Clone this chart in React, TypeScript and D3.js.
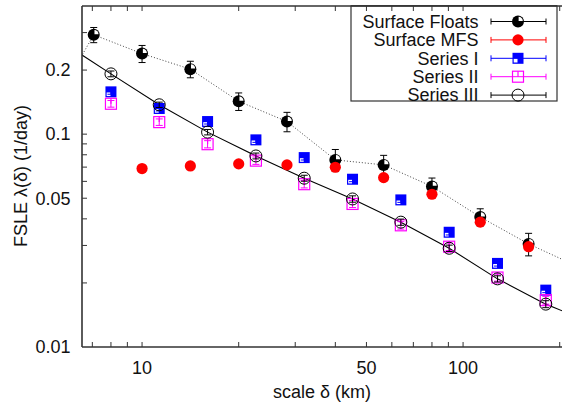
import React from 'react';
import * as d3 from 'd3';

const width = 562;
const height = 406;
const plot = { left: 82, right: 573, top: 6, bottom: 347 };
const font = '"Liberation Sans", Arial, Helvetica, sans-serif';

// scales in km, sqrt(2) spacing
const floatsX = [5, 7.07, 10, 14.14, 20, 28.28, 40, 56.57, 80, 113.1, 160, 226];
const floatsY = [0.117, 0.293, 0.239, 0.202, 0.1427, 0.1146, 0.0757, 0.0717, 0.0568, 0.0408, 0.0305, 0.024];
const floatsErr = [0.01, 0.024, 0.022, 0.018, 0.0135, 0.012, 0.009, 0.0078, 0.0054, 0.0038, 0.0037, 0.002];

const mfsX = [10, 14.14, 20, 28.28, 40, 56.57, 80, 113.1, 160];
const mfsY = [0.0689, 0.0709, 0.0725, 0.0717, 0.0699, 0.0625, 0.0522, 0.0386, 0.0296];
const mfsErr = [0.002, 0.002, 0.002, 0.002, 0.002, 0.002, 0.0015, 0.001, 0.001];

const seriesX = [8, 11.31, 16, 22.63, 32, 45.25, 64, 90.51, 128, 181];
const series1Y = [0.158, 0.132, 0.1146, 0.094, 0.0776, 0.0614, 0.0491, 0.0346, 0.0247, 0.0185];
const series1Err = [0.004, 0.0035, 0.003, 0.0025, 0.002, 0.0016, 0.0013, 0.001, 0.0007, 0.0005];
const series2Y = [0.1389, 0.1139, 0.0897, 0.0751, 0.0582, 0.047, 0.0373, 0.0296, 0.0212, 0.0166];
const series2Err = [0.005, 0.004, 0.0035, 0.003, 0.0023, 0.0018, 0.0015, 0.0012, 0.0008, 0.0007];
const series3Y = [0.192, 0.1374, 0.1022, 0.079, 0.0621, 0.0496, 0.0386, 0.0291, 0.0209, 0.0159];
const series3Err = [0.006, 0.004, 0.003, 0.0025, 0.002, 0.0017, 0.0013, 0.001, 0.0007, 0.0006];

// solid curve through Series III
const fitX = [6.5, 8, 11.31, 16, 22.63, 32, 45.25, 64, 90.51, 128, 181, 220];
const fitY = [0.2354, 0.192, 0.1374, 0.1022, 0.079, 0.0621, 0.0496, 0.0386, 0.0291, 0.0209, 0.0159, 0.0141];

const xTicks = [7, 8, 9, 10, 20, 30, 40, 50, 60, 70, 80, 90, 100, 200];
const xLabels = [10, 50, 100];
const yTicks = [0.02, 0.03, 0.04, 0.05, 0.06, 0.07, 0.08, 0.09, 0.1, 0.2, 0.3];
const yLabels = [0.01, 0.05, 0.1, 0.2];

const legendNames = ['Surface Floats', 'Surface MFS', 'Series I', 'Series II', 'Series III'];
const legendColors = ['#000000', '#ff0000', '#0000ff', '#ff00ff', '#000000'];

const x = d3.scaleLog().domain([6.5, 220]).range([plot.left, plot.right]);
const y = d3.scaleLog().domain([0.01, 0.4]).range([plot.bottom, plot.top]);

const Marker = ({ kind }: { kind: number }) => {
  if (kind === 0) {
    return (
      <g>
        <circle r={6} fill="#000" />
        <path d="M0.6,-0.6 L0.6,-4.8 A4.2,4.2 0 0 1 4.8,-0.6 Z" fill="#fff" />
      </g>
    );
  }
  if (kind === 1) return <circle r={5.6} fill="#ff0000" />;
  if (kind === 2) {
    return (
      <g>
        <rect x={-5.5} y={-5.5} width={11} height={11} fill="#0000ff" />
        <rect x={-4.3} y={0.6} width={3.8} height={3.6} fill="#fff" />
      </g>
    );
  }
  if (kind === 3) {
    return (
      <g fill="none" stroke="#ff00ff" strokeWidth={1.2}>
        <rect x={-5.5} y={-5.5} width={11} height={11} />
        <line x1={0} y1={-5.5} x2={0} y2={0} />
      </g>
    );
  }
  return <circle r={6} fill="none" stroke="#000" strokeWidth={1} />;
};

const ErrorBars = ({ xs, ys, errs, color }: { xs: number[]; ys: number[]; errs: number[]; color: string }) => (
  <g stroke={color} strokeWidth={1}>
    {xs.map((v, i) => {
      const cx = x(v);
      const y0 = y(ys[i] - errs[i]);
      const y1 = y(ys[i] + errs[i]);
      return (
        <g key={i}>
          <line x1={cx} x2={cx} y1={y0} y2={y1} />
          <line x1={cx - 3.5} x2={cx + 3.5} y1={y0} y2={y0} />
          <line x1={cx - 3.5} x2={cx + 3.5} y1={y1} y2={y1} />
        </g>
      );
    })}
  </g>
);

const Points = ({ xs, ys, kind }: { xs: number[]; ys: number[]; kind: number }) => (
  <g>
    {xs.map((v, i) => (
      <g key={i} transform={`translate(${x(v)},${y(ys[i])})`}>
        <Marker kind={kind} />
      </g>
    ))}
  </g>
);

const App = () => {
  const line = d3.line<number>().x((d) => x(d));
  const floatsPath = d3
    .line<number>()
    .x((d) => x(d))
    .y((_, i) => y(floatsY[i]))(floatsX);
  const fitPath = d3
    .line<number>()
    .x((d) => x(d))
    .y((_, i) => y(fitY[i]))(fitX);
  void line;

  const axisColor = '#333';

  return (
    <svg
      width={width}
      height={height}
      style={{ position: 'absolute', left: 0, top: 0, background: '#fff' }}
      fontFamily={font}
    >
      <defs>
        <clipPath id="plotclip">
          <rect x={plot.left} y={plot.top} width={plot.right - plot.left} height={plot.bottom - plot.top} />
        </clipPath>
      </defs>

      <g clipPath="url(#plotclip)">
        <path d={floatsPath || ''} fill="none" stroke="#444" strokeWidth={1} strokeDasharray="1,2" />
        <path d={fitPath || ''} fill="none" stroke="#000" strokeWidth={1.1} />

        <Points xs={floatsX} ys={floatsY} kind={0} />
        <ErrorBars xs={floatsX} ys={floatsY} errs={floatsErr} color="#000" />
        <Points xs={mfsX} ys={mfsY} kind={1} />
        <ErrorBars xs={mfsX} ys={mfsY} errs={mfsErr} color="#ff0000" />
        <Points xs={seriesX} ys={series1Y} kind={2} />
        <ErrorBars xs={seriesX} ys={series1Y} errs={series1Err} color="#0000ff" />
        <Points xs={seriesX} ys={series2Y} kind={3} />
        <ErrorBars xs={seriesX} ys={series2Y} errs={series2Err} color="#ff00ff" />
        <Points xs={seriesX} ys={series3Y} kind={4} />
        <ErrorBars xs={seriesX} ys={series3Y} errs={series3Err} color="#000" />
      </g>

      {/* ticks */}
      <g stroke={axisColor} strokeWidth={1}>
        {xTicks.map((t) => (
          <g key={t}>
            <line x1={x(t)} x2={x(t)} y1={plot.bottom} y2={plot.bottom - 5} />
            <line x1={x(t)} x2={x(t)} y1={plot.top} y2={plot.top + 5} />
          </g>
        ))}
        {yTicks.map((t) => (
          <line key={t} x1={plot.left} x2={plot.left + 5} y1={y(t)} y2={y(t)} />
        ))}
      </g>

      {/* borders */}
      <g stroke={axisColor} strokeWidth={1.6} fill="none">
        <line x1={plot.left} x2={plot.left} y1={plot.top} y2={plot.bottom} />
        <line x1={plot.left} x2={plot.right} y1={plot.bottom} y2={plot.bottom} />
        <line x1={plot.left} x2={plot.right} y1={plot.top} y2={plot.top} />
      </g>

      {/* tick labels */}
      <g fontSize={18} fill="#111">
        {xLabels.map((t) => (
          <text key={t} x={x(t)} y={373.5} textAnchor="middle">
            {t}
          </text>
        ))}
        {yLabels.map((t) => (
          <text key={t} x={70.5} y={y(t) + 6.3} textAnchor="end">
            {t}
          </text>
        ))}
      </g>

      <text x={322} y={398} fontSize={18} textAnchor="middle" fill="#111">
        scale δ (km)
      </text>
      <text transform="translate(27,176) rotate(-90)" fontSize={18} textAnchor="middle" fill="#111">
        FSLE λ(δ) (1/day)
      </text>

      {/* legend */}
      <rect x={351} y={plot.top} width={206} height={95} fill="#fff" stroke={axisColor} strokeWidth={1.2} />
      <line x1={351} x2={557} y1={plot.top} y2={plot.top} stroke={axisColor} strokeWidth={1.6} />
      {xTicks
        .filter((t) => x(t) > 351 && x(t) < 557)
        .map((t) => (
          <line key={t} x1={x(t)} x2={x(t)} y1={plot.top} y2={plot.top + 5} stroke={axisColor} strokeWidth={1} />
        ))}
      {legendNames.map((name, i) => {
        const ly = 21.5 + i * 18.4;
        const c = legendColors[i];
        return (
          <g key={name}>
            <text x={478.5} y={ly + 6.3} fontSize={18} textAnchor="end" fill="#111">
              {name}
            </text>
            <g stroke={c} strokeWidth={1}>
              <line x1={491} x2={546} y1={ly} y2={ly} />
              <line x1={491} x2={491} y1={ly - 3} y2={ly + 3} />
              <line x1={546} x2={546} y1={ly - 3} y2={ly + 3} />
            </g>
            <g transform={`translate(518,${ly})`}>
              <Marker kind={i} />
            </g>
          </g>
        );
      })}
    </svg>
  );
};

export default App;
